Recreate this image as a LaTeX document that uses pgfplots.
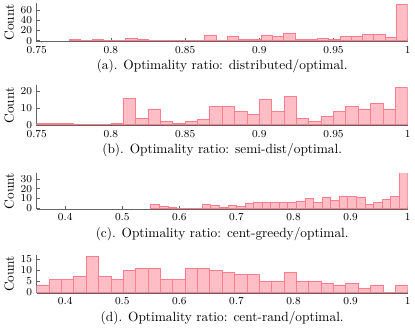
\documentclass[border=0pt]{standalone}
\usepackage{pgfplots}
\pgfplotsset{compat=1.18}

\definecolor{barfill}{RGB}{255,190,198}
\definecolor{baredge}{RGB}{255,125,140}
\definecolor{axgray}{RGB}{100,100,100}

\pgfplotsset{
  panel/.style={
    scale only axis,
    width=278pt,
    axis x line*=bottom,
    axis y line*=left,
    axis line style={axgray, line width=0.8pt, -},
    tick align=inside,
    major tick length=2.5pt,
    tick style={axgray, line width=0.6pt},
    minor tick num=0,
    xmax=1,
    ylabel={Count},
    ylabel style={yshift=-2pt},
    tick label style={font=\footnotesize},
    xlabel style={yshift=2pt},
    x tick label as interval=false,
  },
  bars/.style={ybar interval, fill=barfill, draw=baredge, line width=0.6pt},
}

\begin{document}
\begin{tikzpicture}
% (a)
\begin{axis}[panel, at={(0pt,0pt)}, height=29pt,
  xmin=0.75, ymin=-2, ymax=73.5,
  xtick={0.75,0.8,0.85,0.9,0.95,1}, ytick={0,20,40,60},
  xlabel={(a). Optimality ratio: distributed/optimal.}]
\addplot[bars] coordinates {
(0.7720,2) (0.7796,0) (0.7872,2) (0.7948,0) (0.8024,1) (0.8100,4)
(0.8176,3) (0.8252,0) (0.8328,0) (0.8404,0) (0.8480,0) (0.8556,1)
(0.8632,10) (0.8708,1) (0.8784,8) (0.8860,3) (0.8936,2) (0.9012,11)
(0.9088,8) (0.9164,15) (0.9240,3) (0.9316,2) (0.9392,5) (0.9468,3)
(0.9544,9) (0.9620,8) (0.9696,13) (0.9772,13) (0.9848,6) (0.9924,70)
(1.0000,70)};
\end{axis}
% (b)
\begin{axis}[panel, at={(0pt,-63pt)}, height=30.5pt,
  xmin=0.75, ymin=-0.6, ymax=23.6,
  xtick={0.75,0.8,0.85,0.9,0.95,1}, ytick={0,10,20},
  xlabel={(b). Optimality ratio: semi-dist/optimal.}]
\addplot[bars] coordinates {
(0.7500,1) (0.7583,1) (0.7667,1) (0.7750,0) (0.7833,0) (0.7917,0)
(0.8000,1) (0.8083,16) (0.8167,4) (0.8250,9) (0.8333,2) (0.8417,1)
(0.8500,2) (0.8583,3) (0.8667,11) (0.8750,11) (0.8833,8) (0.8917,6)
(0.9000,15) (0.9083,8) (0.9167,17) (0.9250,4) (0.9333,2) (0.9417,5)
(0.9500,8) (0.9583,11) (0.9667,9) (0.9750,13) (0.9833,9) (0.9917,22)
(1.0000,22)};
\end{axis}
% (c)
\begin{axis}[panel, at={(0pt,-125.5pt)}, height=27pt,
  xmin=0.35, ymin=-1, ymax=35.8,
  xtick={0.4,0.5,0.6,0.7,0.8,0.9,1}, ytick={0,10,20,30},
  xlabel={(c). Optimality ratio: cent-greedy/optimal.}]
\addplot[bars] coordinates {
(0.550,4) (0.565,2) (0.580,1) (0.595,0) (0.610,0) (0.625,0)
(0.640,4) (0.655,3) (0.670,1) (0.685,3) (0.700,2) (0.715,5)
(0.730,6) (0.745,6) (0.760,6) (0.775,6) (0.790,6) (0.805,7)
(0.820,10) (0.835,6) (0.850,11) (0.865,8) (0.880,12) (0.895,12)
(0.910,11) (0.925,4) (0.940,6) (0.955,9) (0.970,12) (0.985,37)
(1.000,37)};
\end{axis}
% (d)
\begin{axis}[panel, at={(0pt,-188.5pt)}, height=29pt,
  xmin=0.35, ymin=-0.45, ymax=17,
  xtick={0.4,0.5,0.6,0.7,0.8,0.9,1}, ytick={0,5,10,15},
  xlabel={(d). Optimality ratio: cent-rand/optimal.}]
\addplot[bars] coordinates {
(0.3500,3) (0.3717,6) (0.3933,6) (0.4150,7) (0.4367,16) (0.4583,7)
(0.4800,6) (0.5017,10) (0.5233,11) (0.5450,11) (0.5667,6) (0.5883,6)
(0.6100,11) (0.6317,11) (0.6533,10) (0.6750,9) (0.6967,8) (0.7183,8)
(0.7400,5) (0.7617,5) (0.7833,9) (0.8050,5) (0.8267,5) (0.8483,4)
(0.8700,3) (0.8917,4) (0.9133,2) (0.9350,3) (0.9567,0) (0.9783,3)
(1.0000,3)};
\end{axis}
\end{tikzpicture}
\end{document}
